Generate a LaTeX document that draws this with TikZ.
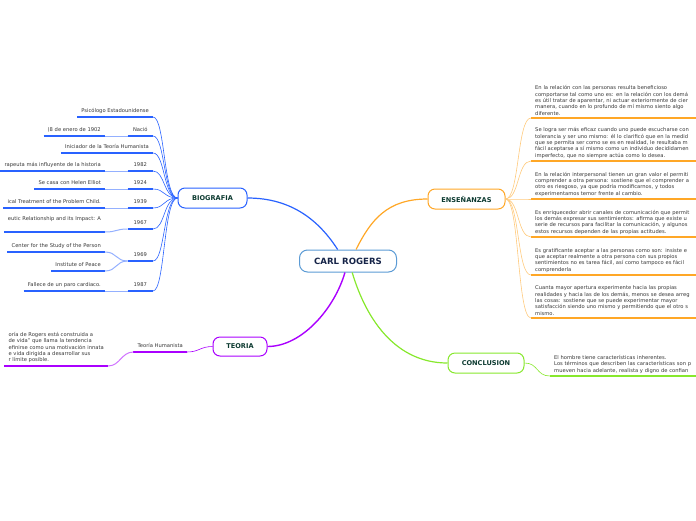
\documentclass[tikz,border=0pt]{standalone}
\usepackage{fontspec}
\setmainfont{DejaVu Sans}
\usepackage{xcolor}
\usepackage{tikz}

\definecolor{biocol}{RGB}{41,98,255}
\definecolor{enscol}{RGB}{255,167,38}
\definecolor{teocol}{RGB}{170,0,255}
\definecolor{concol}{RGB}{135,232,45}
\definecolor{rootcol}{RGB}{91,155,213}
\definecolor{topictext}{RGB}{12,58,48}
\definecolor{roottext}{RGB}{22,36,72}
\definecolor{leaftext}{RGB}{55,55,55}

\tikzset{
  root/.style={draw=rootcol, fill=white, line width=1pt, rounded corners=8pt,
    font=\bfseries\fontsize{8.6}{10}\selectfont, text=roottext,
    minimum width=97pt, minimum height=22pt},
  topic/.style={draw=#1, fill=white, line width=1pt, rounded corners=7pt,
    font=\bfseries\fontsize{6.6}{8}\selectfont, text=topictext, minimum height=20pt},
  leaf/.style={font=\fontsize{5.2}{6.4}\selectfont, text=leaftext,
    inner xsep=4pt, inner ysep=2.5pt, minimum width=25pt},
  rleaf/.style={leaf, anchor=south east, align=right, text depth=1.5pt},
  lleaf/.style={leaf, anchor=south west, align=left, text width=200pt},
  uline/.style={draw=#1, line width=1.5pt},
  fan/.style={draw=#1, line width=0.6pt},
  sublink/.style={draw=#1, line width=1pt},
  link/.style={draw=#1, line width=1.2pt},
}

\begin{document}
\begin{tikzpicture}[x=1pt,y=-1pt]
  \useasboundingbox (0,0) rectangle (696,520);

  % main topics
  \node[root] (cr) at (348,261) {CARL ROGERS};
  \node[topic=biocol, minimum width=69pt] (bio) at (212.5,198) {BIOGRAFIA};
  \node[topic=enscol, minimum width=77pt] (ens) at (466.5,199) {ENSEÑANZAS};
  \node[topic=teocol, minimum width=54pt, minimum height=19pt] (teo) at (240,346.5) {TEORIA};
  \node[topic=concol, minimum width=76pt] (con) at (486,363) {CONCLUSION};

  \draw[link=biocol] (bio.east) .. controls +(45,0) and +(-18,-28) .. (cr.132);
  \draw[link=enscol] (cr.55) .. controls +(15,-30) and +(-40,0) .. (ens.west);
  \draw[link=teocol, line width=1.4pt] (cr.255) .. controls +(-10,35) and +(35,0) .. (teo.east);
  \draw[link=concol] (cr.290) .. controls +(15,50) and +(-50,0) .. (con.west);

  % biografia
  \node[rleaf] (psi) at (153,117) {Psicólogo Estadounidense};
  \node[rleaf] (nac) at (153,136) {Nació};
  \node[rleaf] (fec) at (105,136) {(8 de enero de 1902};
  \node[rleaf] (ini) at (153,153) {Iniciador de la Teoría Humanista};
  \node[rleaf] (y82) at (153,171) {1982};
  \node[rleaf] (ter) at (105,171) {rapeuta más influyente de la historia};
  \node[rleaf] (y24) at (153,189) {1924};
  \node[rleaf] (hel) at (105,189) {Se casa con Helen Elliot};
  \node[rleaf] (y39) at (153,208) {1939};
  \node[rleaf] (cli) at (105,208) {ical Treatment of the Problem Child.};
  \node[rleaf] (y67) at (153,229) {1967};
  \node[rleaf, text depth=8.5pt] (rel) at (105,232) {eutic Relationship and its Impact: A};
  \node[rleaf] (y69) at (153,261) {1969};
  \node[rleaf] (cen) at (105,252) {Center for the Study of the Person};
  \node[rleaf] (pea) at (105,271) {Institute of Peace};
  \node[rleaf] (y87) at (153,291) {1987};
  \node[rleaf] (fal) at (105,291) {Fallece de un paro cardiaco.};

  \draw[uline=biocol] (psi.south west) -- (psi.south east);
  \draw[uline=biocol] (nac.south west) -- (nac.south east);
  \draw[uline=biocol] (fec.south west) -- (fec.south east);
  \draw[uline=biocol] (ini.south west) -- (ini.south east);
  \draw[uline=biocol] (y82.south west) -- (y82.south east);
  \draw[uline=biocol] (ter.south west) -- (ter.south east);
  \draw[uline=biocol] (y24.south west) -- (y24.south east);
  \draw[uline=biocol] (hel.south west) -- (hel.south east);
  \draw[uline=biocol] (y39.south west) -- (y39.south east);
  \draw[uline=biocol] (cli.south west) -- (cli.south east);
  \draw[uline=biocol] (y67.south west) -- (y67.south east);
  \draw[uline=biocol] (rel.south west) -- (rel.south east);
  \draw[uline=biocol] (y69.south west) -- (y69.south east);
  \draw[uline=biocol] (cen.south west) -- (cen.south east);
  \draw[uline=biocol] (pea.south west) -- (pea.south east);
  \draw[uline=biocol] (y87.south west) -- (y87.south east);
  \draw[uline=biocol] (fal.south west) -- (fal.south east);

  \draw[fan=biocol] (bio.west) .. controls +(-14,0) and +(12,0) .. (psi.south east);
  \draw[fan=biocol] (bio.west) .. controls +(-14,0) and +(12,0) .. (nac.south east);
  \draw[fan=biocol] (bio.west) .. controls +(-14,0) and +(12,0) .. (ini.south east);
  \draw[fan=biocol] (bio.west) .. controls +(-14,0) and +(12,0) .. (y82.south east);
  \draw[fan=biocol] (bio.west) .. controls +(-14,0) and +(12,0) .. (y24.south east);
  \draw[fan=biocol] (bio.west) .. controls +(-14,0) and +(12,0) .. (y39.south east);
  \draw[fan=biocol] (bio.west) .. controls +(-14,0) and +(12,0) .. (y67.south east);
  \draw[fan=biocol] (bio.west) .. controls +(-14,0) and +(12,0) .. (y69.south east);
  \draw[fan=biocol] (bio.west) .. controls +(-14,0) and +(12,0) .. (y87.south east);

  \draw[sublink=biocol!50] (fec.south east) -- (nac.south west);
  \draw[sublink=biocol!50] (ter.south east) -- (y82.south west);
  \draw[sublink=biocol!50] (hel.south east) -- (y24.south west);
  \draw[sublink=biocol!50] (cli.south east) -- (y39.south west);
  \draw[sublink=biocol!50] (rel.south east) .. controls +(12,0) and +(-12,0) .. (y67.south west);
  \draw[sublink=biocol!50] (cen.south east) .. controls +(12,0) and +(-12,0) .. (y69.south west);
  \draw[sublink=biocol!50] (pea.south east) .. controls +(12,0) and +(-12,0) .. (y69.south west);
  \draw[sublink=biocol!50] (fal.south east) -- (y87.south west);

  % ensenanzas
  \node[lleaf] (e1) at (531,118) {En la relación con las personas resulta beneficioso\\comportarse tal como uno es: en la relación con los demá\\es útil tratar de aparentar, ni actuar exteriormente de cier\\manera, cuando en lo profundo de mí mismo siento algo\\diferente.};
  \node[lleaf] (e2) at (531,161) {Se logra ser más eficaz cuando uno puede escucharse con\\tolerancia y ser uno mismo: él lo clarificó que en la medid\\que se permita ser como se es en realidad, le resultaba m\\fácil aceptarse a sí mismo como un individuo decididamen\\imperfecto, que no siempre actúa como lo desea.};
  \node[lleaf] (e3) at (531,199) {En la relación interpersonal tienen un gran valor el permiti\\comprender a otra persona: sostiene que el comprender a\\otro es riesgoso, ya que podría modificarnos, y todos\\experimentamos temor frente al cambio.};
  \node[lleaf] (e4) at (531,237) {Es enriquecedor abrir canales de comunicación que permit\\los demás expresar sus sentimientos: afirma que existe u\\serie de recursos para facilitar la comunicación, y algunos\\estos recursos dependen de las propias actitudes.};
  \node[lleaf] (e5) at (531,275) {Es gratificante aceptar a las personas como son: insiste e\\que aceptar realmente a otra persona con sus propios\\sentimientos no es tarea fácil, así como tampoco es fácil\\comprenderla};
  \node[lleaf] (e6) at (531,318) {Cuanta mayor apertura experimente hacia las propias\\realidades y hacia las de los demás, menos se desea arreg\\las cosas: sostiene que se puede experimentar mayor\\satisfacción siendo uno mismo y permitiendo que el otro s\\mismo.};

  \draw[uline=enscol] (e1.south west) -- (e1.south east);
  \draw[uline=enscol] (e2.south west) -- (e2.south east);
  \draw[uline=enscol] (e3.south west) -- (e3.south east);
  \draw[uline=enscol] (e4.south west) -- (e4.south east);
  \draw[uline=enscol] (e5.south west) -- (e5.south east);
  \draw[uline=enscol] (e6.south west) -- (e6.south east);

  \draw[fan=enscol!60] (ens.east) .. controls +(14,0) and +(-14,0) .. (e1.south west);
  \draw[fan=enscol!60] (ens.east) .. controls +(14,0) and +(-14,0) .. (e2.south west);
  \draw[fan=enscol!60] (ens.east) .. controls +(14,0) and +(-14,0) .. (e3.south west);
  \draw[fan=enscol!60] (ens.east) .. controls +(14,0) and +(-14,0) .. (e4.south west);
  \draw[fan=enscol!60] (ens.east) .. controls +(14,0) and +(-14,0) .. (e5.south west);
  \draw[fan=enscol!60] (ens.east) .. controls +(14,0) and +(-14,0) .. (e6.south west);

  % teoria
  \node[rleaf] (hum) at (187,352) {Teoría Humanista};
  \node[rleaf, align=left] (rog) at (108,366) {oría de Rogers está construida a\\de vida" que llama la tendencia\\efinirse como una motivación innata\\e vida dirigida a desarrollar sus\\r límite posible.};
  \draw[uline=teocol] (hum.south west) -- (hum.south east);
  \draw[uline=teocol] (rog.south west) -- (rog.south east);
  \draw[fan=teocol] (teo.west) .. controls +(-12,0) and +(12,0) .. (hum.south east);
  \draw[sublink=teocol!55] (hum.south west) .. controls +(-12,0) and +(12,0) .. (rog.south east);

  % conclusion
  \node[lleaf] (cnc) at (550,376) {El hombre tiene características inherentes.\\Los términos que describen las características son p\\mueven hacia adelante, realista y digno de confian};
  \draw[uline=concol] (cnc.south west) -- (cnc.south east);
  \draw[fan=concol] (con.east) .. controls +(14,0) and +(-14,0) .. (cnc.south west);
\end{tikzpicture}
\end{document}
